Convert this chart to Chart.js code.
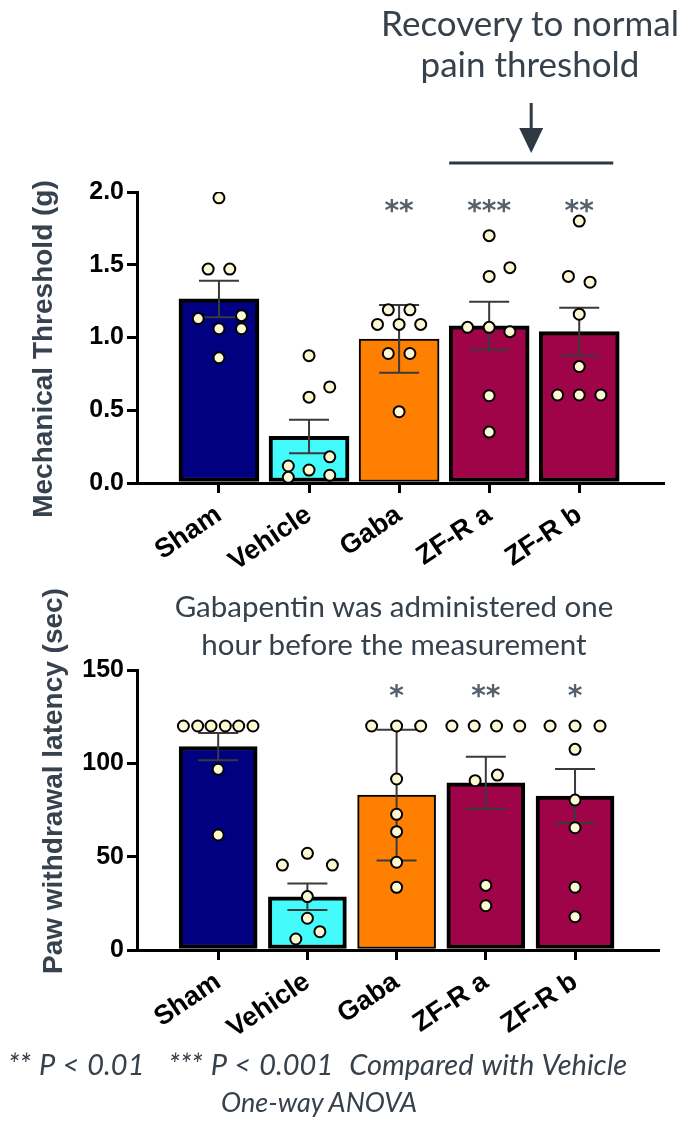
<!DOCTYPE html>
<html>
<head>
<meta charset="utf-8">
<script src="https://cdn.jsdelivr.net/npm/chart.js@4.4.0/dist/chart.umd.min.js"></script>
<style>
  body { margin: 0; background: #fff; width: 693px; height: 1124px; position: relative; overflow: hidden; }
  canvas { position: absolute; left: 0; }
  .txt { position: absolute; font-family: Lato, sans-serif; color: #37414c; white-space: pre; text-align: center; z-index: 2; }
  .ytitle { position: absolute; width: 420px; height: 32px; line-height: 32px; text-align: center; white-space: nowrap;
            font: bold 28px "Liberation Sans", Arial, sans-serif; color: #37424f; transform: rotate(-90deg); }
</style>
</head>
<body>
<canvas id="top" width="693" height="585" style="top:0"></canvas>
<canvas id="bottom" width="693" height="490" style="top:560px"></canvas>

<div class="txt" style="left:330px; top:2px; width:400px; font-size:35px; line-height:41px;">Recovery to normal
pain threshold</div>
<div class="txt" style="left:144px; top:587px; width:500px; font-size:29.5px; line-height:38px;">Gabapentin was administered one
hour before the measurement</div>
<div class="txt" style="left:8px; top:1044px; font-size:29px; line-height:40px; font-style:italic; text-align:left; word-spacing:1.2px;">** P &lt; 0.01   *** P &lt; 0.001  Compared with Vehicle</div>
<div class="txt" style="left:119px; top:1082px; width:400px; font-size:27px; line-height:40px; font-style:italic;">One-way ANOVA</div>

<div class="ytitle" style="left:-167px; top:333px;">Mechanical Threshold (g)</div>
<div class="ytitle" style="left:-157px; top:765px;">Paw withdrawal latency (sec)</div>

<script>
const categories = ['Sham', 'Vehicle', 'Gaba', 'ZF-R a', 'ZF-R b']
const barColors = ['#000080', '#44fbfb', '#ff8000', '#9f0449', '#9f0449']
const barBorders = [4, 4, 2, 4, 4]

// top panel - mechanical threshold (g)
const threshMean = [1.265, 0.32, 0.99, 1.08, 1.04]
const threshSem = [0.125, 0.115, 0.233, 0.165, 0.165]
const threshStars = ['', '', '**', '***', '**']
const threshDots = [
  [1.96, 1.47, 1.47, 1.13, 1.15, 1.06, 1.06, 0.86],
  [0.875, 0.59, 0.66, 0.18, 0.117, 0.089, 0.039, 0.053],
  [1.19, 1.19, 1.09, 1.09, 1.09, 0.89, 0.89, 0.49],
  [1.70, 1.42, 1.48, 1.07, 1.07, 1.04, 0.60, 0.35],
  [1.80, 1.42, 1.38, 1.16, 0.80, 0.605, 0.605, 0.605],
]
const threshJitter = [
  [0, -0.12, 0.12, -0.23, 0.25, 0, 0.25, 0],
  [0, 0, 0.23, 0.23, -0.23, 0, -0.23, 0.23],
  [-0.12, 0.12, -0.24, 0, 0.24, -0.12, 0.12, 0],
  [0, 0, 0.23, -0.24, 0, 0.23, 0, 0],
  [0, -0.12, 0.12, 0, 0, -0.24, 0, 0.24],
]

// bottom panel - paw withdrawal latency (sec)
const latencyMean = [109, 28.5, 83, 89.5, 82.5]
const latencySem = [7.3, 7.1, 35, 14, 14.5]
const latencyStars = ['', '', '*', '**', '*']
const latencyDots = [
  [120, 120, 120, 120, 120, 120, 96.8, 61.6],
  [45.5, 51.8, 45.5, 28.6, 17, 9.8, 5.9],
  [120, 120, 120, 91.6, 72.7, 63.4, 47, 33.6],
  [120, 120, 120, 120, 90.7, 93.7, 34.6, 23.7],
  [120, 120, 120, 107.5, 80.3, 65.5, 33.6, 17.8],
]
const latencyJitter = [
  [-0.39, -0.23, -0.08, 0.08, 0.23, 0.39, 0, 0],
  [-0.28, 0, 0.28, 0, 0, 0.14, -0.13],
  [-0.28, 0, 0.27, 0, 0, 0, 0, 0],
  [-0.38, -0.13, 0.12, 0.38, -0.12, 0.13, 0, 0],
  [-0.28, 0, 0.28, 0, 0, 0, 0, 0],
]

Chart.defaults.font.family = '"Liberation Sans", Arial, sans-serif'

function dotsFor(values, jitter) {
  const pts = []
  values.forEach((vals, i) => vals.forEach((v, k) => pts.push({ x: i + jitter[i][k], y: v })))
  return pts
}

// error bars sit over the bars but under the dots, stars go on top
const errorBars = {
  id: 'errorBars',
  afterDatasetDraw(chart, args, opts) {
    if (args.meta.type !== 'bar') return
    const { ctx, scales: { x, y } } = chart
    ctx.save()
    ctx.strokeStyle = '#3a3a3a'
    ctx.lineWidth = 2
    opts.means.forEach((m, i) => {
      const px = x.getPixelForValue(i)
      const hi = y.getPixelForValue(m + opts.sem[i])
      const lo = y.getPixelForValue(m - opts.sem[i])
      ctx.beginPath()
      ctx.moveTo(px, hi); ctx.lineTo(px, lo)
      ctx.moveTo(px - 20, hi); ctx.lineTo(px + 20, hi)
      ctx.moveTo(px - 20, lo); ctx.lineTo(px + 20, lo)
      ctx.stroke()
    })
    ctx.restore()
  },
  afterDatasetsDraw(chart, args, opts) {
    const { ctx, scales: { x, y } } = chart
    ctx.save()
    ctx.fillStyle = '#56606b'
    ctx.font = 'bold 28px "DejaVu Sans"'
    ctx.textAlign = 'center'
    ctx.textBaseline = 'alphabetic'
    opts.stars.forEach((s, i) => {
      if (s) ctx.fillText(s, x.getPixelForValue(i), y.getPixelForValue(opts.starLevel) + 16)
    })
    if (opts.bracket) {
      const left = x.getPixelForValue(3) - 40
      const right = x.getPixelForValue(4) + 34
      const mid = (left + right) / 2
      ctx.strokeStyle = '#2f3944'
      ctx.fillStyle = '#2f3944'
      ctx.lineWidth = 3
      ctx.beginPath()
      ctx.moveTo(left, 163); ctx.lineTo(right, 163)
      ctx.moveTo(mid, 103); ctx.lineTo(mid, 132)
      ctx.stroke()
      ctx.beginPath()
      ctx.moveTo(mid - 12, 128); ctx.lineTo(mid + 12, 128); ctx.lineTo(mid, 153)
      ctx.closePath()
      ctx.fill()
    }
    ctx.restore()
  },
}

function makePanel(id, cfg) {
  return new Chart(document.getElementById(id), {
    type: 'bar',
    plugins: [errorBars],
    data: {
      datasets: [
        {
          type: 'scatter',
          data: dotsFor(cfg.dots, cfg.jitter),
          order: 0,
          pointRadius: 5.5,
          pointHoverRadius: 5.5,
          pointBackgroundColor: '#fdf9d3',
          pointBorderColor: '#000',
          pointBorderWidth: 2,
        },
        {
          type: 'bar',
          data: cfg.means.map((m, i) => ({ x: i, y: m })),
          order: 1,
          backgroundColor: barColors,
          borderColor: '#000',
          borderWidth: barBorders,
          borderSkipped: false,
          barThickness: cfg.barWidth,
        },
      ],
    },
    options: {
      responsive: false,
      animation: false,
      events: [],
      layout: { padding: { top: cfg.padTop, left: 0, right: cfg.padRight, bottom: 0 } },
      plugins: {
        legend: { display: false },
        tooltip: { enabled: false },
        errorBars: { means: cfg.means, sem: cfg.sem, stars: cfg.stars, starLevel: cfg.starLevel, bracket: cfg.bracket },
      },
      scales: {
        x: {
          type: 'linear',
          min: -0.91,
          max: 4.93,
          offset: false,
          afterBuildTicks: (s) => { s.ticks = categories.map((c, i) => ({ value: i })) },
          afterFit: (s) => { s.height = cfg.xHeight },
          ticks: {
            callback: (v) => categories[v],
            autoSkip: false,
            maxRotation: 34,
            minRotation: 34,
            color: '#000',
            padding: 6,
            font: { size: 27, weight: 'bold' },
          },
          grid: { offset: false, drawOnChartArea: false, drawTicks: true, tickLength: 10, color: '#000', lineWidth: 3 },
          border: { color: '#000', width: 3 },
        },
        y: {
          min: 0,
          max: cfg.yMax,
          afterFit: (s) => { s.width = 137 },
          ticks: {
            stepSize: cfg.yStep,
            callback: cfg.yFormat,
            color: '#000',
            padding: 3,
            font: { size: 25, weight: 'bold' },
          },
          grid: { drawOnChartArea: false, drawTicks: true, tickLength: 10, color: '#000', lineWidth: 3 },
          border: { color: '#000', width: 3 },
        },
      },
    },
  })
}

makePanel('top', {
  means: threshMean, sem: threshSem, dots: threshDots, jitter: threshJitter, stars: threshStars,
  starLevel: 1.92, yMax: 2, yStep: 0.5, yFormat: (v) => v.toFixed(1),
  padTop: 192, padRight: 30, xHeight: 102, barWidth: 80, bracket: true,
})

makePanel('bottom', {
  means: latencyMean, sem: latencySem, dots: latencyDots, jitter: latencyJitter, stars: latencyStars,
  starLevel: 140, yMax: 150, yStep: 50, yFormat: (v) => v,
  padTop: 110, padRight: 35, xHeight: 100, barWidth: 78, bracket: false,
})
</script>
</body>
</html>
